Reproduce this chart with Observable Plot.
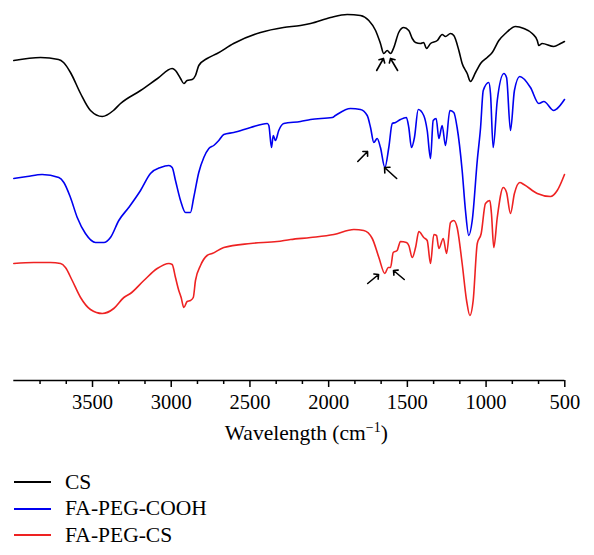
<!DOCTYPE html>
<html>
<head>
<meta charset="utf-8">
<script src="https://cdn.jsdelivr.net/npm/d3@7"></script>
<script src="https://cdn.jsdelivr.net/npm/@observablehq/plot@0.6"></script>
<style>
  body { margin: 0; background: #fff; font-family: "Liberation Serif", serif; }
  #legend { padding-top: 14px; }
  .row { display: flex; align-items: center; height: 26.5px; font-size: 21.5px; color: #000; }
  .sw { width: 37px; height: 2px; margin-left: 14px; margin-right: 14px; }
</style>
</head>
<body>
<div id="chart"></div>
<div id="legend"></div>
<script>
// Series names and colours
const seriesNames = ["CS", "FA-PEG-COOH", "FA-PEG-CS"];
const seriesColors = ["#000000", "#0000f0", "#ee2222"];

// Axis ticks (wavenumber, cm^-1)
const majorTicks = [3500, 3000, 2500, 2000, 1500, 1000, 500];
const minorTicks = [3833.3, 3666.7, 3333.3, 3166.7, 2833.3, 2666.7, 2333.3, 2166.7,
                    1833.3, 1666.7, 1333.3, 1166.7, 833.3, 666.7];
const xTitleMain = "Wavelength (cm";
const xTitleSup = "\u22121";
const xTitleEnd = ")";

// Spectra: [wavenumber, transmittance (arbitrary, offset units)]
const csData = [[4000,340],[3830,343],[3716,341],[3684,338],[3640,328],[3576,307],[3513,290],[3438,284],[3367,290],[3322,297],[3195,310],[3087,322],[2994,332],[2973,330],[2941,322],[2920,317],[2899,320],[2867,321],[2846,325],[2825,335],[2772,342],[2708,347],[2604,357],[2433,368],[2287,373],[2179,375],[2115,377],[1988,383],[1882,386],[1798,385],[1745,380],[1702,370],[1671,357],[1650,347],[1628,350],[1607,347],[1586,353],[1555,368],[1523,373],[1491,370],[1469,362],[1448,358],[1417,357],[1396,358],[1379,352],[1353,357],[1310,360],[1279,366],[1258,364],[1226,367],[1205,365],[1173,350],[1152,337],[1120,327],[1099,319],[1067,328],[1035,337],[993,343],[961,348],[919,360],[877,367],[813,374],[760,372],[707,367],[675,360],[665,355],[644,357],[570,354],[527,357],[502,359]];

const fapegcoohData = [[4000,222],[3915,224],[3820,226],[3714,223],[3682,218],[3640,203],[3597,183],[3545,167],[3481,158],[3428,158],[3386,163],[3333,180],[3270,193],[3195,210],[3132,227],[3068,233],[3015,235],[2994,233],[2973,220],[2941,200],[2909,188],[2878,188],[2857,203],[2825,228],[2793,243],[2761,252],[2730,255],[2698,260],[2666,266],[2603,268],[2496,273],[2390,277],[2380,275],[2363,253],[2352,265],[2338,260],[2317,270],[2285,277],[2179,279],[2115,281],[1977,283],[1957,285],[1861,292],[1798,291],[1755,285],[1734,273],[1713,258],[1692,262],[1671,253],[1643,233],[1618,253],[1596,277],[1575,278],[1544,281],[1506,283],[1491,273],[1474,253],[1455,263],[1431,291],[1396,285],[1374,270],[1353,242],[1336,280],[1317,282],[1300,262],[1279,275],[1258,255],[1230,290],[1205,288],[1184,273],[1152,230],[1131,190],[1110,165],[1088,180],[1056,240],[1035,273],[1018,310],[983,318],[972,307],[955,253],[929,300],[887,327],[870,323],[845,270],[820,310],[786,324],[718,313],[665,297],[633,299],[570,290],[548,292],[502,301]];

const fapegcsData = [[4000,137],[3873,138],[3767,138],[3703,137],[3672,133],[3629,120],[3576,103],[3513,91],[3438,87],[3365,92],[3301,103],[3259,107],[3174,120],[3089,132],[3015,137],[2994,136],[2973,123],[2952,110],[2937,103],[2920,93],[2899,99],[2878,100],[2860,103],[2846,120],[2814,135],[2772,145],[2740,147],[2666,153],[2496,157],[2327,159],[2242,161],[2115,163],[1967,166],[1840,171],[1777,170],[1723,162],[1681,143],[1643,127],[1622,133],[1607,133],[1590,148],[1565,150],[1544,159],[1506,158],[1491,155],[1469,143],[1448,153],[1427,169],[1396,163],[1374,160],[1353,137],[1332,166],[1315,165],[1300,152],[1272,162],[1251,147],[1226,178],[1205,180],[1184,173],[1152,137],[1124,100],[1103,85],[1082,100],[1056,157],[1031,167],[1004,197],[976,200],[966,187],[951,153],[929,183],[891,213],[870,208],[845,187],[820,207],[786,218],[760,216],[675,207],[591,204],[548,210],[502,226]];

// Annotation arrows (tail -> head, in data units)
const arrowTails = [[1695,330],[1562,330],[1815,239],[1568,222],[1752,117],[1520,121]];
const arrowHeads = [[1652,342],[1607,342],[1753,249],[1645,233],[1683,126],[1588,130]];

const seriesData = [csData, fapegcoohData, fapegcsData];
const arrows = arrowTails.map((t, i) => ({x1: t[0], y1: t[1], x2: arrowHeads[i][0], y2: arrowHeads[i][1]}));

const lineMarks = seriesData.map((data, i) =>
  Plot.line(data, {x: d => d[0], y: d => d[1], stroke: seriesColors[i], strokeWidth: 1.6, curve: "monotone-x"})
);

const chart = Plot.plot({
  width: 594,
  height: 455,
  marginLeft: 13.3,
  marginRight: 29.7,
  marginTop: 0,
  marginBottom: 75,
  style: {fontFamily: '"Liberation Serif", serif', fontSize: "20px", color: "#000", background: "#fff", overflow: "visible"},
  x: {domain: [4000, 500]},
  y: {domain: [20, 400], axis: null},
  marks: [
    Plot.ruleY([20], {stroke: "#000", strokeWidth: 1.6}),
    Plot.axisX(minorTicks, {tickSize: 4, tickFormat: () => "", strokeWidth: 1.5, label: null}),
    Plot.axisX(majorTicks, {tickSize: 7, tickPadding: 7, strokeWidth: 1.5, label: null, fontSize: 20.5, tickFormat: d => String(d)}),
    ...lineMarks,
    Plot.arrow(arrows, {x1: "x1", y1: "y1", x2: "x2", y2: "y2", stroke: "#000", strokeWidth: 1.6, headLength: 9, headAngle: 90}),
    Plot.text([xTitleMain + xTitleSup + xTitleEnd], {frameAnchor: "bottom", dy: 59, dx: 17, fontSize: 21.5, fill: "#000", className: "xtitle"})
  ]
});
document.getElementById("chart").appendChild(chart);

// Render the superscript of the axis title as a raised, smaller tspan
const titleText = chart.querySelector("g.xtitle text, .xtitle text");
if (titleText) {
  titleText.textContent = "";
  const t1 = document.createElementNS("http://www.w3.org/2000/svg", "tspan");
  t1.textContent = xTitleMain;
  const t2 = document.createElementNS("http://www.w3.org/2000/svg", "tspan");
  t2.textContent = xTitleSup;
  t2.setAttribute("font-size", "14");
  t2.setAttribute("dy", "-8");
  const t3 = document.createElementNS("http://www.w3.org/2000/svg", "tspan");
  t3.textContent = xTitleEnd;
  t3.setAttribute("dy", "8");
  titleText.appendChild(t1);
  titleText.appendChild(t2);
  titleText.appendChild(t3);
}

const legend = document.getElementById("legend");
seriesNames.forEach((name, i) => {
  const row = document.createElement("div");
  row.className = "row";
  const sw = document.createElement("span");
  sw.className = "sw";
  sw.style.background = seriesColors[i];
  const label = document.createElement("span");
  label.textContent = name;
  row.appendChild(sw);
  row.appendChild(label);
  legend.appendChild(row);
});
</script>
</body>
</html>
